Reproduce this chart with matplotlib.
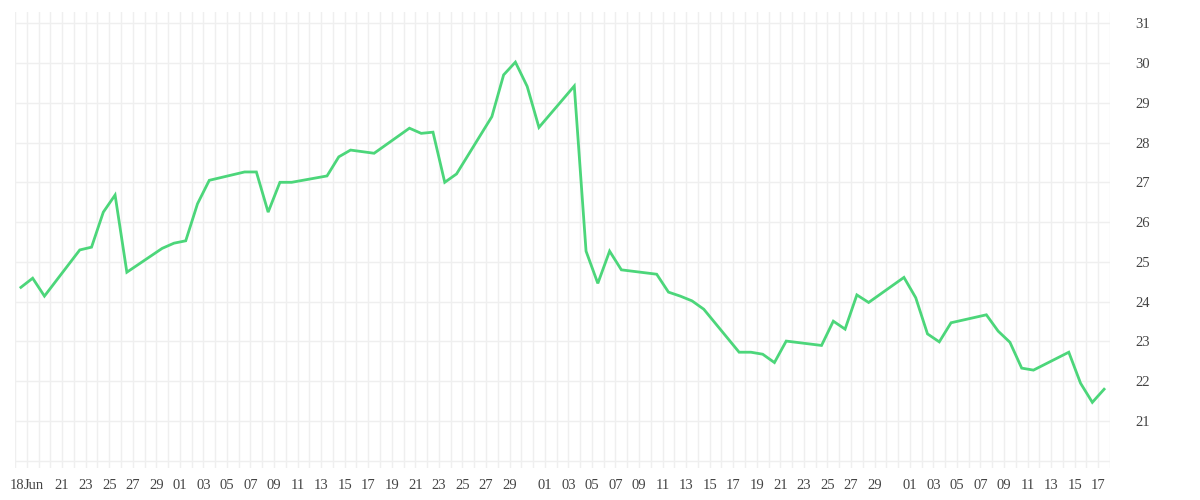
import pandas as pd
import matplotlib
matplotlib.use("Agg")
import matplotlib.pyplot as plt
import matplotlib.dates as mdates

plt.rcParams.update({"font.family": ["Liberation Serif", "DejaVu Serif"], "font.size": 10.5})

#%%
# 資料：日期與價格
dates = ["2025-06-18", "2025-06-19", "2025-06-20", "2025-06-23", "2025-06-24", "2025-06-25",
         "2025-06-26", "2025-06-27", "2025-06-30", "2025-07-01", "2025-07-02", "2025-07-03",
         "2025-07-04", "2025-07-07", "2025-07-08", "2025-07-09", "2025-07-10", "2025-07-11",
         "2025-07-14", "2025-07-15", "2025-07-16", "2025-07-18", "2025-07-21", "2025-07-22",
         "2025-07-23", "2025-07-24", "2025-07-25", "2025-07-28", "2025-07-29", "2025-07-30",
         "2025-07-31", "2025-08-01", "2025-08-04", "2025-08-05", "2025-08-06", "2025-08-07",
         "2025-08-08", "2025-08-11", "2025-08-12", "2025-08-13", "2025-08-14", "2025-08-15",
         "2025-08-18", "2025-08-19", "2025-08-20", "2025-08-21", "2025-08-22", "2025-08-25",
         "2025-08-26", "2025-08-27", "2025-08-28", "2025-08-29", "2025-09-01", "2025-09-02",
         "2025-09-03", "2025-09-04", "2025-09-05", "2025-09-08", "2025-09-09", "2025-09-10",
         "2025-09-11", "2025-09-12", "2025-09-15", "2025-09-16", "2025-09-17", "2025-09-18"]

prices = [24.36, 24.59, 24.14, 25.30, 25.37, 26.25,
          26.68, 24.74, 25.34, 25.47, 25.53, 26.46,
          27.05, 27.26, 27.26, 26.25, 27.00, 27.00,
          27.16, 27.64, 27.81, 27.73, 28.36, 28.23,
          28.26, 27.00, 27.21, 28.65, 29.70, 30.02,
          29.41, 28.38, 29.42, 25.27, 24.46, 25.27,
          24.80, 24.69, 24.24, 24.14, 24.02, 23.81,
          22.73, 22.73, 22.68, 22.47, 23.01, 22.90,
          23.51, 23.31, 24.17, 23.98, 24.61, 24.10,
          23.19, 22.99, 23.47, 23.67, 23.26, 22.98,
          22.33, 22.28, 22.73, 21.95, 21.47, 21.80]

# x 軸刻度：每兩天一個標籤
tick_dates = ["2025-06-17", "2025-06-19", "2025-06-21", "2025-06-23", "2025-06-25", "2025-06-27",
              "2025-06-29", "2025-07-01", "2025-07-03", "2025-07-05", "2025-07-07", "2025-07-09",
              "2025-07-11", "2025-07-13", "2025-07-15", "2025-07-17", "2025-07-19", "2025-07-21",
              "2025-07-23", "2025-07-25", "2025-07-27", "2025-07-29", "2025-08-01", "2025-08-03",
              "2025-08-05", "2025-08-07", "2025-08-09", "2025-08-11", "2025-08-13", "2025-08-15",
              "2025-08-17", "2025-08-19", "2025-08-21", "2025-08-23", "2025-08-25", "2025-08-27",
              "2025-08-29", "2025-09-01", "2025-09-03", "2025-09-05", "2025-09-07", "2025-09-09",
              "2025-09-11", "2025-09-13", "2025-09-15", "2025-09-17"]
tick_labels = ["18", "Jun", "21", "23", "25", "27",
               "29", "01", "03", "05", "07", "09",
               "11", "13", "15", "17", "19", "21",
               "23", "25", "27", "29", "01", "03",
               "05", "07", "09", "11", "13", "15",
               "17", "19", "21", "23", "25", "27",
               "29", "01", "03", "05", "07", "09",
               "11", "13", "15", "17"]

y_ticks = list(range(20, 32))
y_labels = [""] + [str(v) for v in range(21, 32)]

#%%
x = pd.to_datetime(dates) - pd.Timedelta(hours=12)
xt = list(pd.to_datetime(tick_dates))
# "18" 與 "Jun" 兩個標籤緊貼在一起
xt[0] = xt[0] + pd.Timedelta(hours=5)
xt[1] = xt[1] - pd.Timedelta(hours=10)

fig = plt.figure(figsize=(12, 5), dpi=100)
ax = fig.add_axes([15/1200, 32/500, 1095/1200, 456/500])

ax.plot(x, prices, color="#4cd67a", linewidth=2.0, solid_joinstyle="miter")

ax.set_xlim(pd.Timestamp("2025-06-17"), pd.Timestamp("2025-09-18"))
ax.set_ylim(19.82, 31.28)

ax.xaxis.set_minor_locator(mdates.DayLocator())
ax.xaxis.remove_overlapping_locs = False
ax.set_xticks(xt)
ax.set_xticklabels(tick_labels)
ax.set_yticks(y_ticks)
ax.set_yticklabels(y_labels)
ax.yaxis.tick_right()

ax.grid(which="minor", axis="x", color="#efefef", linewidth=1)
ax.grid(which="major", axis="y", color="#efefef", linewidth=1)
ax.set_axisbelow(True)
ax.tick_params(which="both", length=0, colors="#444444")
ax.tick_params(axis="x", pad=8)
ax.tick_params(axis="y", pad=18)
for s in ax.spines.values():
    s.set_visible(False)

fig.savefig("out.png")
